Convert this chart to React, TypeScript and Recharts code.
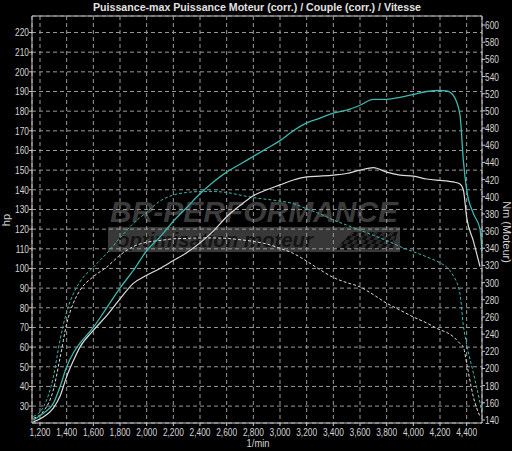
import React from 'react';
import { LineChart, Line, XAxis, YAxis, CartesianGrid } from 'recharts';

const rpm = [1150, 1225, 1300, 1350, 1400, 1450, 1500, 1600, 1700, 1800, 1900, 2000, 2100, 2200, 2300, 2400, 2500, 2600, 2700, 2800, 2900, 3000, 3100, 3200, 3300, 3400, 3500, 3600, 3700, 3800, 3900, 4000, 4100, 4200, 4250, 4300, 4350, 4375, 4400, 4450, 4500, 4515];

// Puissance (hp) - tuned (cyan) and stock (white)
const hpTuned = [23, 26.3, 31.4, 39.8, 50, 57, 62, 70, 80, 90, 99, 109, 116, 124, 131, 138, 144, 149, 153, 157, 161, 165, 170, 174, 176.5, 179, 180.5, 183, 186, 186, 187, 188.5, 190, 190.5, 190.3, 188, 178, 155, 140, 128, 120, 108];
const hpStock = [22, 24.5, 29, 35, 45, 53, 60, 68.5, 76, 84.5, 92.4, 96.5, 100, 104, 108, 113, 119, 126.3, 132, 137, 140, 142.5, 145, 146.6, 147, 147.5, 148.3, 150, 151.3, 149, 147.5, 147, 145.5, 144.8, 144.5, 144, 143, 140, 126, 114, 101, null];

// Couple (Nm) - tuned (cyan dashed) and stock (white dashed)
const nmTuned = [144, 155, 190, 233, 266, 287, 301, 318, 334, 352, 369, 382, 395, 402, 405, 406, 406, 405, 402, 399, 397, 395, 392, 386, 380, 373, 367, 361, 355, 349, 342, 336, 330, 323, 318, 308, 287, 250, 228, 195, 160, 148];
const nmStock = [142, 150, 175, 212, 252, 276, 291, 307, 318, 332, 342, 347, 349, 351, 351.5, 352, 352, 351.5, 350, 348, 345, 340, 334, 325, 315, 306, 300, 295, 286, 276, 268, 260, 253, 245, 242, 237, 229, 225, 206, 167, 144, null];

const xTicks = [1200, 1400, 1600, 1800, 2000, 2200, 2400, 2600, 2800, 3000, 3200, 3400, 3600, 3800, 4000, 4200, 4400];
const hpTicks = [30, 40, 50, 60, 70, 80, 90, 100, 110, 120, 130, 140, 150, 160, 170, 180, 190, 200, 210, 220];
const nmTicks = [140, 160, 180, 200, 220, 240, 260, 280, 300, 320, 340, 360, 380, 400, 420, 440, 460, 480, 500, 520, 540, 560, 580, 600];

const title = 'Puissance-max Puissance Moteur (corr.) / Couple (corr.) / Vitesse';

const data = rpm.map((r, i) => ({
  rpm: r,
  hpTuned: hpTuned[i],
  hpStock: hpStock[i],
  nmTuned: nmTuned[i],
  nmStock: nmStock[i],
}));

const W = 512;
const H = 451;
const FONT = '"Liberation Sans", Arial, sans-serif';
const LABEL = '#d4d4d4';
const AXIS = '#c8c8c8';
const CYAN = '#3cb8ae';
const WHITE = '#dcdcdc';
const SX = 0.76;

const XTick = (props: any) => {
  const { x, y, payload } = props;
  return (
    <text transform={`translate(${x},${y}) scale(${SX},1)`} textAnchor="middle" dy="0.75em" fill={LABEL} fontSize={11} fontFamily={FONT}>
      {Number(payload.value).toLocaleString('en-US')}
    </text>
  );
};

const LeftTick = (props: any) => {
  const { x, y, payload } = props;
  return (
    <text transform={`translate(${x},${y}) scale(${SX},1)`} textAnchor="end" dy="0.36em" fill={LABEL} fontSize={11} fontFamily={FONT}>
      {payload.value}
    </text>
  );
};

const RightTick = (props: any) => {
  const { x, y, payload } = props;
  return (
    <text transform={`translate(${x},${y}) scale(${SX},1)`} textAnchor="start" dy="0.36em" fill={LABEL} fontSize={11} fontFamily={FONT}>
      {payload.value}
    </text>
  );
};

export default function App() {
  return (
    <div style={{ position: 'absolute', left: 0, top: 0, width: W, height: H, background: '#000', overflow: 'hidden' }}>
      <svg width={W} height={H} style={{ position: 'absolute', left: 0, top: 0 }}>
        <defs>
          <pattern id="chk" width="8" height="8" patternUnits="userSpaceOnUse" patternTransform="skewX(-30)">
            <rect width="8" height="8" fill="#2a2a2a" />
            <rect width="4" height="4" fill="#0c0c0c" />
            <rect x="4" y="4" width="4" height="4" fill="#0c0c0c" />
          </pattern>
        </defs>
        <text x={257} y={10.5} textAnchor="middle" fill="#e2e2e2" fontSize={11} fontWeight="bold" fontFamily={FONT} textLength={328} lengthAdjust="spacingAndGlyphs">{title}</text>
        {/* watermark */}
        <text x={110} y={222} fill="#3b3b3b" fontSize={30} fontWeight="bold" fontStyle="italic" fontFamily={FONT} textLength={288} lengthAdjust="spacingAndGlyphs">BR-PERFORMANCE</text>
        <rect x={108} y={227} width={292} height={25} fill="#383838" />
        <text x={117} y={247} fill="#141414" fontSize={20} fontWeight="bold" fontStyle="italic" fontFamily={FONT} textLength={196} lengthAdjust="spacingAndGlyphs">optimisation moteur</text>
        <polygon points="335,250 352,232 398,232 392,250" fill="url(#chk)" />
        {/* frame top */}
        <line x1={32} y1={16} x2={482} y2={16} stroke={AXIS} strokeWidth={1} />
        {/* axis titles */}
        <text transform="translate(10,220) rotate(-90)" textAnchor="middle" fill={LABEL} fontSize={11} fontFamily={FONT}>hp</text>
        <text transform="translate(503,232) rotate(90)" textAnchor="middle" fill={LABEL} fontSize={11} fontFamily={FONT}>Nm (Moteur)</text>
        <text transform="translate(258,447) scale(0.85,1)" textAnchor="middle" fill={LABEL} fontSize={11} fontFamily={FONT}>1/min</text>
      </svg>
      <div style={{ position: 'absolute', left: 0, top: 0 }}>
        <LineChart width={W} height={H} data={data} margin={{ top: 16, right: 0, bottom: 0, left: 0 }}>
          <CartesianGrid yAxisId="left" stroke="#9a9a9a" strokeDasharray="4 3" fill="none" />
          <XAxis
            dataKey="rpm"
            type="number"
            domain={[1140, 4515]}
            ticks={xTicks}
            interval={0}
            allowDataOverflow
            height={28}
            tickSize={3}
            tickMargin={2}
            tick={<XTick />}
            stroke={AXIS}
          />
          <YAxis
            yAxisId="left"
            orientation="left"
            width={32}
            domain={[21.4, 228.4]}
            ticks={hpTicks}
            interval={0}
            allowDataOverflow
            tickSize={3}
            tickMargin={0}
            tick={<LeftTick />}
            stroke={AXIS}
          />
          <YAxis
            yAxisId="right"
            orientation="right"
            width={30}
            domain={[136.5, 610.5]}
            ticks={nmTicks}
            interval={0}
            allowDataOverflow
            tickSize={3}
            tickMargin={0}
            tick={<RightTick />}
            stroke={AXIS}
          />
          <Line yAxisId="right" type="monotone" dataKey="nmStock" stroke={WHITE} strokeWidth={1} strokeDasharray="3 2" dot={false} isAnimationActive={false} />
          <Line yAxisId="right" type="monotone" dataKey="nmTuned" stroke={CYAN} strokeWidth={1} strokeDasharray="3 2" dot={false} isAnimationActive={false} />
          <Line yAxisId="left" type="monotone" dataKey="hpStock" stroke={WHITE} strokeWidth={1.2} dot={false} isAnimationActive={false} />
          <Line yAxisId="left" type="monotone" dataKey="hpTuned" stroke={CYAN} strokeWidth={1.3} dot={false} isAnimationActive={false} />
        </LineChart>
      </div>
    </div>
  );
}
